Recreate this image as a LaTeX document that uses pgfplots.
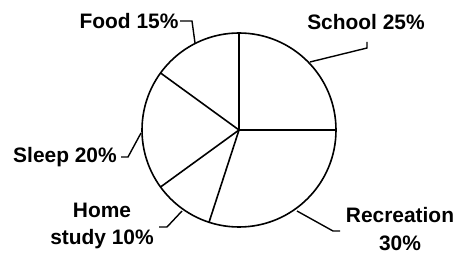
\documentclass[border=0pt]{standalone}
\usepackage{pgfplots}
\pgfplotsset{compat=1.18}
\usepackage{pgfplotstable}
\usepackage{fontspec}
\setmainfont{Liberation Sans}
\pgfplotstableread{
label pct
School 25
Recreation 30
Homestudy 10
Sleep 20
Food 15
}\piedata
\begin{document}
\begin{tikzpicture}
\begin{axis}[
  scale only axis, width=459bp, height=254bp,
  xmin=0, xmax=459, ymin=0, ymax=254,
  hide axis, clip=false,
]
\path (rel axis cs:0,0) rectangle (rel axis cs:1,1);
\def\cum{90}
\pgfplotsforeachungrouped \i in {0,...,4}{%
  \pgfplotstablegetelem{\i}{pct}\of\piedata
  \pgfmathsetmacro\ang{\cum}%
  \edef\tmp{\noexpand\draw[line width=1.6bp] (axis cs:239,124) -- ++(\ang:97bp);}%
  \tmp
  \pgfmathsetmacro\cum{\cum-3.6*\pgfplotsretval}%
}
\draw[line width=1.6bp] (axis cs:239,124) circle[radius=97bp];
% leaders
\draw[line width=1.4bp] (axis cs:180,233) -- (axis cs:192,233) -- (axis cs:195,211);
\draw[line width=1.4bp] (axis cs:367,212) -- (axis cs:367,206) -- (axis cs:310,192);
\draw[line width=1.4bp] (axis cs:121,97) -- (axis cs:128,97) -- (axis cs:141,121);
\draw[line width=1.4bp] (axis cs:159,27) -- (axis cs:167,27) -- (axis cs:182,43);
\draw[line width=1.4bp] (axis cs:297,43) -- (axis cs:333,23) -- (axis cs:340,23);
% labels
\tikzset{lab/.style={font=\fontsize{21}{28}\selectfont\bfseries, inner sep=0pt, align=center}}
\node[lab] at (axis cs:129,233) {Food 15\%};
\node[lab] at (axis cs:366,232) {School 25\%};
\node[lab] at (axis cs:65,97) {Sleep 20\%};
\node[lab] at (axis cs:102,28) {Home\\study 10\%};
\node[lab] at (axis cs:400,25) {Recreation\\30\%};
\end{axis}
\end{tikzpicture}
\end{document}
